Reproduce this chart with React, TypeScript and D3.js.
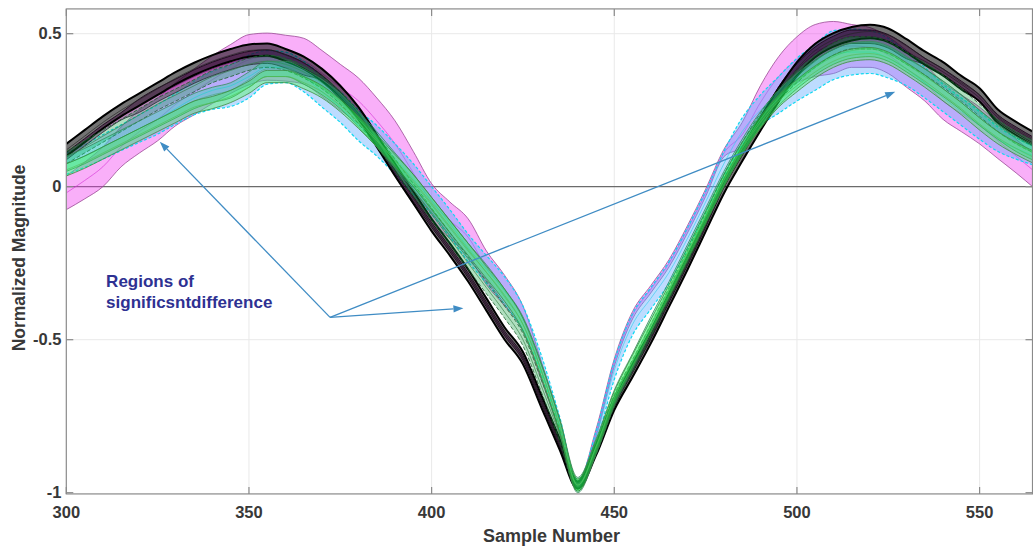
import React from 'react';
import * as d3 from 'd3';

// sample positions (x axis)
const samples = [
  300, 305, 310, 315, 320, 325, 330, 335, 340, 345, 350, 355, 360, 365, 370, 375, 380, 385,
  390, 395, 400, 405, 410, 415, 420, 425, 430, 435, 440, 445, 450, 455, 460, 465, 470, 475,
  480, 485, 490, 495, 500, 505, 510, 515, 520, 525, 530, 535, 540, 545, 550, 555, 560, 565,
];

const blackMean = [
  0.12, 0.165, 0.21, 0.25, 0.285, 0.32, 0.355, 0.385, 0.41, 0.43, 0.445, 0.448, 0.43, 0.405, 0.365, 0.31, 0.24, 0.15,
  0.055, -0.035, -0.125, -0.205, -0.29, -0.385, -0.48, -0.56, -0.7, -0.84, -0.975, -0.86, -0.71, -0.6, -0.49, -0.37, -0.25, -0.125,
  0, 0.105, 0.205, 0.3, 0.385, 0.445, 0.48, 0.5, 0.507, 0.495, 0.46, 0.42, 0.385, 0.34, 0.3, 0.23, 0.19, 0.155,
];
const blackSpread = [
  0.02, 0.02, 0.02, 0.02, 0.02, 0.02, 0.02, 0.02, 0.02, 0.02, 0.02, 0.02, 0.02, 0.02, 0.02, 0.02, 0.02, 0.02,
  0.02, 0.02, 0.02, 0.02, 0.02, 0.02, 0.02, 0.02, 0.02, 0.018, 0.012, 0.018, 0.02, 0.022, 0.022, 0.022, 0.022, 0.022,
  0.022, 0.022, 0.022, 0.022, 0.022, 0.022, 0.022, 0.022, 0.022, 0.022, 0.022, 0.022, 0.022, 0.022, 0.022, 0.022, 0.022, 0.022,
];

const purpleMean = [
  0.1, 0.145, 0.19, 0.23, 0.265, 0.3, 0.33, 0.36, 0.385, 0.405, 0.42, 0.425, 0.41, 0.385, 0.355, 0.3, 0.23, 0.14,
  0.045, -0.04, -0.125, -0.205, -0.29, -0.385, -0.48, -0.56, -0.7, -0.84, -0.975, -0.86, -0.71, -0.6, -0.49, -0.37, -0.25, -0.125,
  0.005, 0.11, 0.21, 0.305, 0.38, 0.435, 0.47, 0.49, 0.49, 0.475, 0.44, 0.41, 0.375, 0.335, 0.29, 0.225, 0.185, 0.15,
];
const purpleSpread = [
  0.012, 0.012, 0.012, 0.012, 0.022, 0.022, 0.022, 0.022, 0.022, 0.022, 0.022, 0.022, 0.022, 0.02, 0.008, 0.008, 0.008, 0.008,
  0.008, 0.008, 0.008, 0.008, 0.008, 0.008, 0.008, 0.008, 0.008, 0.008, 0.008, 0.008, 0.008, 0.008, 0.008, 0.008, 0.008, 0.008,
  0.008, 0.008, 0.008, 0.022, 0.022, 0.022, 0.022, 0.022, 0.022, 0.022, 0.022, 0.01, 0.01, 0.01, 0.01, 0.01, 0.01, 0.01,
];

const magentaMean = [
  -0.02, 0.02, 0.065, 0.13, 0.18, 0.22, 0.27, 0.31, 0.35, 0.385, 0.415, 0.425, 0.42, 0.41, 0.37, 0.325, 0.28, 0.215,
  0.14, 0.045, -0.05, -0.11, -0.165, -0.265, -0.34, -0.43, -0.6, -0.78, -0.975, -0.805, -0.575, -0.42, -0.335, -0.25, -0.14, -0.02,
  0.11, 0.17, 0.275, 0.36, 0.415, 0.445, 0.455, 0.46, 0.455, 0.43, 0.385, 0.34, 0.28, 0.24, 0.2, 0.15, 0.1, 0.05,
];
const magentaSpread = [
  0.055, 0.06, 0.065, 0.065, 0.07, 0.07, 0.07, 0.075, 0.078, 0.08, 0.082, 0.077, 0.075, 0.075, 0.075, 0.075, 0.075, 0.075,
  0.075, 0.07, 0.06, 0.06, 0.06, 0.055, 0.05, 0.04, 0.03, 0.02, 0.012, 0.012, 0.012, 0.012, 0.012, 0.012, 0.012, 0.012,
  0.012, 0.04, 0.055, 0.065, 0.075, 0.085, 0.085, 0.07, 0.065, 0.06, 0.06, 0.06, 0.06, 0.06, 0.06, 0.058, 0.055, 0.055,
];

const cyanMean = [
  0.075, 0.1, 0.13, 0.16, 0.19, 0.22, 0.255, 0.29, 0.315, 0.33, 0.36, 0.39, 0.39, 0.36, 0.31, 0.26, 0.2, 0.15,
  0.09, 0.025, -0.045, -0.12, -0.2, -0.27, -0.34, -0.43, -0.58, -0.77, -0.975, -0.82, -0.6, -0.45, -0.365, -0.28, -0.17, -0.05,
  0.075, 0.18, 0.25, 0.3, 0.35, 0.39, 0.43, 0.44, 0.44, 0.42, 0.385, 0.34, 0.29, 0.245, 0.2, 0.155, 0.125, 0.1,
];
const cyanSpread = [
  0.035, 0.037, 0.04, 0.042, 0.045, 0.048, 0.05, 0.055, 0.062, 0.068, 0.07, 0.055, 0.05, 0.05, 0.05, 0.05, 0.05, 0.05,
  0.05, 0.05, 0.045, 0.045, 0.045, 0.045, 0.045, 0.04, 0.03, 0.02, 0.012, 0.02, 0.03, 0.035, 0.035, 0.035, 0.035, 0.035,
  0.04, 0.045, 0.05, 0.06, 0.07, 0.075, 0.08, 0.075, 0.07, 0.065, 0.055, 0.05, 0.045, 0.045, 0.045, 0.04, 0.035, 0.03,
];

const darkGreenMean = [
  0.095, 0.13, 0.165, 0.2, 0.235, 0.27, 0.3, 0.33, 0.36, 0.38, 0.4, 0.41, 0.4, 0.375, 0.34, 0.29, 0.225, 0.15,
  0.07, -0.01, -0.09, -0.17, -0.25, -0.33, -0.41, -0.5, -0.65, -0.81, -0.975, -0.855, -0.7, -0.585, -0.47, -0.35, -0.23, -0.105,
  0.02, 0.125, 0.22, 0.3, 0.36, 0.41, 0.45, 0.47, 0.47, 0.455, 0.42, 0.385, 0.345, 0.3, 0.25, 0.2, 0.16, 0.13,
];
const mintMean = [
  0.075, 0.1, 0.13, 0.16, 0.19, 0.22, 0.25, 0.28, 0.3, 0.315, 0.35, 0.385, 0.385, 0.36, 0.325, 0.28, 0.22, 0.155,
  0.085, 0.015, -0.06, -0.135, -0.21, -0.28, -0.36, -0.45, -0.6, -0.78, -0.975, -0.85, -0.69, -0.57, -0.45, -0.335, -0.215, -0.095,
  0.025, 0.13, 0.22, 0.29, 0.345, 0.39, 0.425, 0.445, 0.45, 0.435, 0.4, 0.36, 0.32, 0.275, 0.225, 0.18, 0.14, 0.11,
];
const limeMean = [
  0.055, 0.08, 0.11, 0.14, 0.17, 0.2, 0.23, 0.26, 0.275, 0.295, 0.325, 0.36, 0.36, 0.34, 0.31, 0.265, 0.21, 0.15,
  0.085, 0.02, -0.055, -0.13, -0.205, -0.28, -0.355, -0.45, -0.6, -0.78, -0.975, -0.85, -0.69, -0.57, -0.455, -0.34, -0.22, -0.1,
  0.02, 0.125, 0.21, 0.28, 0.33, 0.375, 0.41, 0.43, 0.435, 0.42, 0.385, 0.345, 0.3, 0.255, 0.205, 0.16, 0.125, 0.095,
];
const darkGreenSpread = samples.map(() => 0.02);
const mintSpread = samples.map(() => 0.025);
const limeSpread = samples.map(() => 0.02);

const xTicks = [300, 350, 400, 450, 500, 550];
const yTicks = [-1, -0.5, 0, 0.5];
const yTickLabels = ['-1', '-0.5', '0', '0.5'];

// annotation (data coordinates)
const noteLines = ['Regions of', 'significsntdifference'];
const noteAnchor = [310.9, -0.327];
const arrowOrigin = [372.2, -0.427];
const arrowTargets = [
  [325.6, 0.147],
  [408.7, -0.397],
  [526.9, 0.31],
];

const W = 1033;
const H = 548;
const FONT = "'Liberation Sans', Arial, Helvetica, sans-serif";

// drawing order: bottom first
const bands = [
  { name: 'magenta', mean: magentaMean, spread: magentaSpread, fill: '#ee2cee', fo: 0.38, edge: '#9a4a96', ew: 0.8, dash: null, mid: '#d633d6' },
  { name: 'cyan', mean: cyanMean, spread: cyanSpread, fill: '#5aa8ff', fo: 0.4, edge: '#10d8f0', ew: 1.2, dash: '3,2', mid: '#33ccee' },
  { name: 'purple', mean: purpleMean, spread: purpleSpread, fill: '#7a0a7a', fo: 0.5, edge: '#3d0a3d', ew: 0.9, dash: null, mid: '#5a1a5a' },
  { name: 'black', mean: blackMean, spread: blackSpread, fill: '#000000', fo: 0.55, edge: '#000000', ew: 2, dash: null, mid: '#222222' },
  { name: 'darkGreen', mean: darkGreenMean, spread: darkGreenSpread, fill: '#0a9a3a', fo: 0.32, edge: '#1f5e2e', ew: 0.8, dash: '4,2', mid: '#2f7a3f' },
  { name: 'mint', mean: mintMean, spread: mintSpread, fill: '#00e08c', fo: 0.3, edge: '#3a8a5a', ew: 0.8, dash: null, mid: '#44aa77' },
  { name: 'lime', mean: limeMean, spread: limeSpread, fill: '#33ff33', fo: 0.33, edge: '#3c8c3c', ew: 0.8, dash: null, mid: '#55bb55' },
];

export default function App() {
  const x = d3.scaleLinear().domain([300, 565]).range([66.3, 1034.4]);
  const y = d3.scaleLinear().domain([-1, 0.5]).range([492.7, 33.7]);

  const left = x(300);
  const right = W - 0.5;
  const top = y(0.581);
  const bottom = y(-1.004);

  const curve = d3.curveMonotoneX;

  const arrows = arrowTargets.map(([tx, ty]) => {
    const x0 = x(arrowOrigin[0]);
    const y0 = y(arrowOrigin[1]);
    const x1 = x(tx);
    const y1 = y(ty);
    const a = Math.atan2(y1 - y0, x1 - x0);
    const len = 10;
    const hw = 3.6;
    const bx = x1 - len * Math.cos(a);
    const by = y1 - len * Math.sin(a);
    const head = [
      [x1, y1],
      [bx + hw * Math.sin(a), by - hw * Math.cos(a)],
      [bx - hw * Math.sin(a), by + hw * Math.cos(a)],
    ];
    return { x0, y0, bx, by, head };
  });

  return (
    <svg
      width={W}
      height={H}
      style={{ position: 'absolute', left: 0, top: 0, background: '#fff' }}
      fontFamily={FONT}
    >
      <defs>
        <clipPath id="plot-clip">
          <rect x={left} y={top} width={right - left} height={bottom - top} />
        </clipPath>
      </defs>

      {/* grid */}
      <g stroke="#e9e9e9" strokeWidth={1}>
        {xTicks.slice(1).map((t) => (
          <line key={'gx' + t} x1={x(t)} x2={x(t)} y1={top} y2={bottom} />
        ))}
        {yTicks.filter((t) => t !== 0 && t !== -1).map((t) => (
          <line key={'gy' + t} x1={left} x2={right} y1={y(t)} y2={y(t)} />
        ))}
      </g>

      {/* zero line */}
      <line x1={left} x2={right} y1={y(0)} y2={y(0)} stroke="#6b6b6b" strokeWidth={1.3} />

      {/* bands */}
      <g clipPath="url(#plot-clip)">
        {bands.map((b) => {
          const area = d3
            .area<number>()
            .x((_, i) => x(samples[i]))
            .y0((d, i) => y(d - b.spread[i]))
            .y1((d, i) => y(d + b.spread[i]))
            .curve(curve);
          const upper = d3
            .line<number>()
            .x((_, i) => x(samples[i]))
            .y((d, i) => y(d + b.spread[i]))
            .curve(curve);
          const lower = d3
            .line<number>()
            .x((_, i) => x(samples[i]))
            .y((d, i) => y(d - b.spread[i]))
            .curve(curve);
          const mid = d3
            .line<number>()
            .x((_, i) => x(samples[i]))
            .y((d) => y(d))
            .curve(curve);
          return (
            <g key={b.name}>
              <path d={area(b.mean) || ''} fill={b.fill} fillOpacity={b.fo} stroke="none" />
              <path d={mid(b.mean) || ''} fill="none" stroke={b.mid} strokeWidth={0.8} strokeOpacity={0.8} />
              <path d={upper(b.mean) || ''} fill="none" stroke={b.edge} strokeWidth={b.ew} strokeDasharray={b.dash || undefined} />
              <path d={lower(b.mean) || ''} fill="none" stroke={b.edge} strokeWidth={b.ew} strokeDasharray={b.dash || undefined} />
            </g>
          );
        })}
      </g>

      {/* axes box */}
      <rect x={left} y={top} width={right - left} height={bottom - top} fill="none" stroke="#8a8a8a" strokeWidth={1.2} />
      <g stroke="#8a8a8a" strokeWidth={1.2}>
        {xTicks.map((t) => (
          <g key={'tx' + t}>
            <line x1={x(t)} x2={x(t)} y1={bottom} y2={bottom - 7} />
            <line x1={x(t)} x2={x(t)} y1={top} y2={top + 7} />
          </g>
        ))}
        {yTicks.map((t) => (
          <g key={'ty' + t}>
            <line x1={left} x2={left + 7} y1={y(t)} y2={y(t)} />
            <line x1={right} x2={right - 7} y1={y(t)} y2={y(t)} />
          </g>
        ))}
      </g>

      {/* tick labels */}
      <g fill="#383838" fontWeight="bold" fontSize={16.5}>
        {xTicks.map((t) => (
          <text key={'lx' + t} x={x(t)} y={518} textAnchor="middle">
            {t}
          </text>
        ))}
        {yTicks.map((t, i) => (
          <text key={'ly' + t} x={61.5} y={y(t)} dy="0.35em" textAnchor="end">
            {yTickLabels[i]}
          </text>
        ))}
      </g>

      {/* axis titles */}
      <text x={551.5} y={541.5} textAnchor="middle" fontWeight="bold" fontSize={18} fill="#383838">
        Sample Number
      </text>
      <text
        transform={`translate(24.5, 258) rotate(-90)`}
        textAnchor="middle"
        fontWeight="bold"
        fontSize={17.5}
        fill="#383838"
      >
        Normalized Magnitude
      </text>

      {/* annotation */}
      <g stroke="#3f8cc4" strokeWidth={1.3} fill="#3f8cc4">
        {arrows.map((a, i) => (
          <g key={'ar' + i}>
            <line x1={a.x0} y1={a.y0} x2={a.bx} y2={a.by} />
            <polygon points={a.head.map((p) => p.join(',')).join(' ')} stroke="none" />
          </g>
        ))}
      </g>
      <g fill="#2e3192" fontWeight="bold" fontSize={17}>
        {noteLines.map((l, i) => (
          <text key={l} x={x(noteAnchor[0])} y={y(noteAnchor[1]) + i * 21.3}>
            {l}
          </text>
        ))}
      </g>
    </svg>
  );
}
